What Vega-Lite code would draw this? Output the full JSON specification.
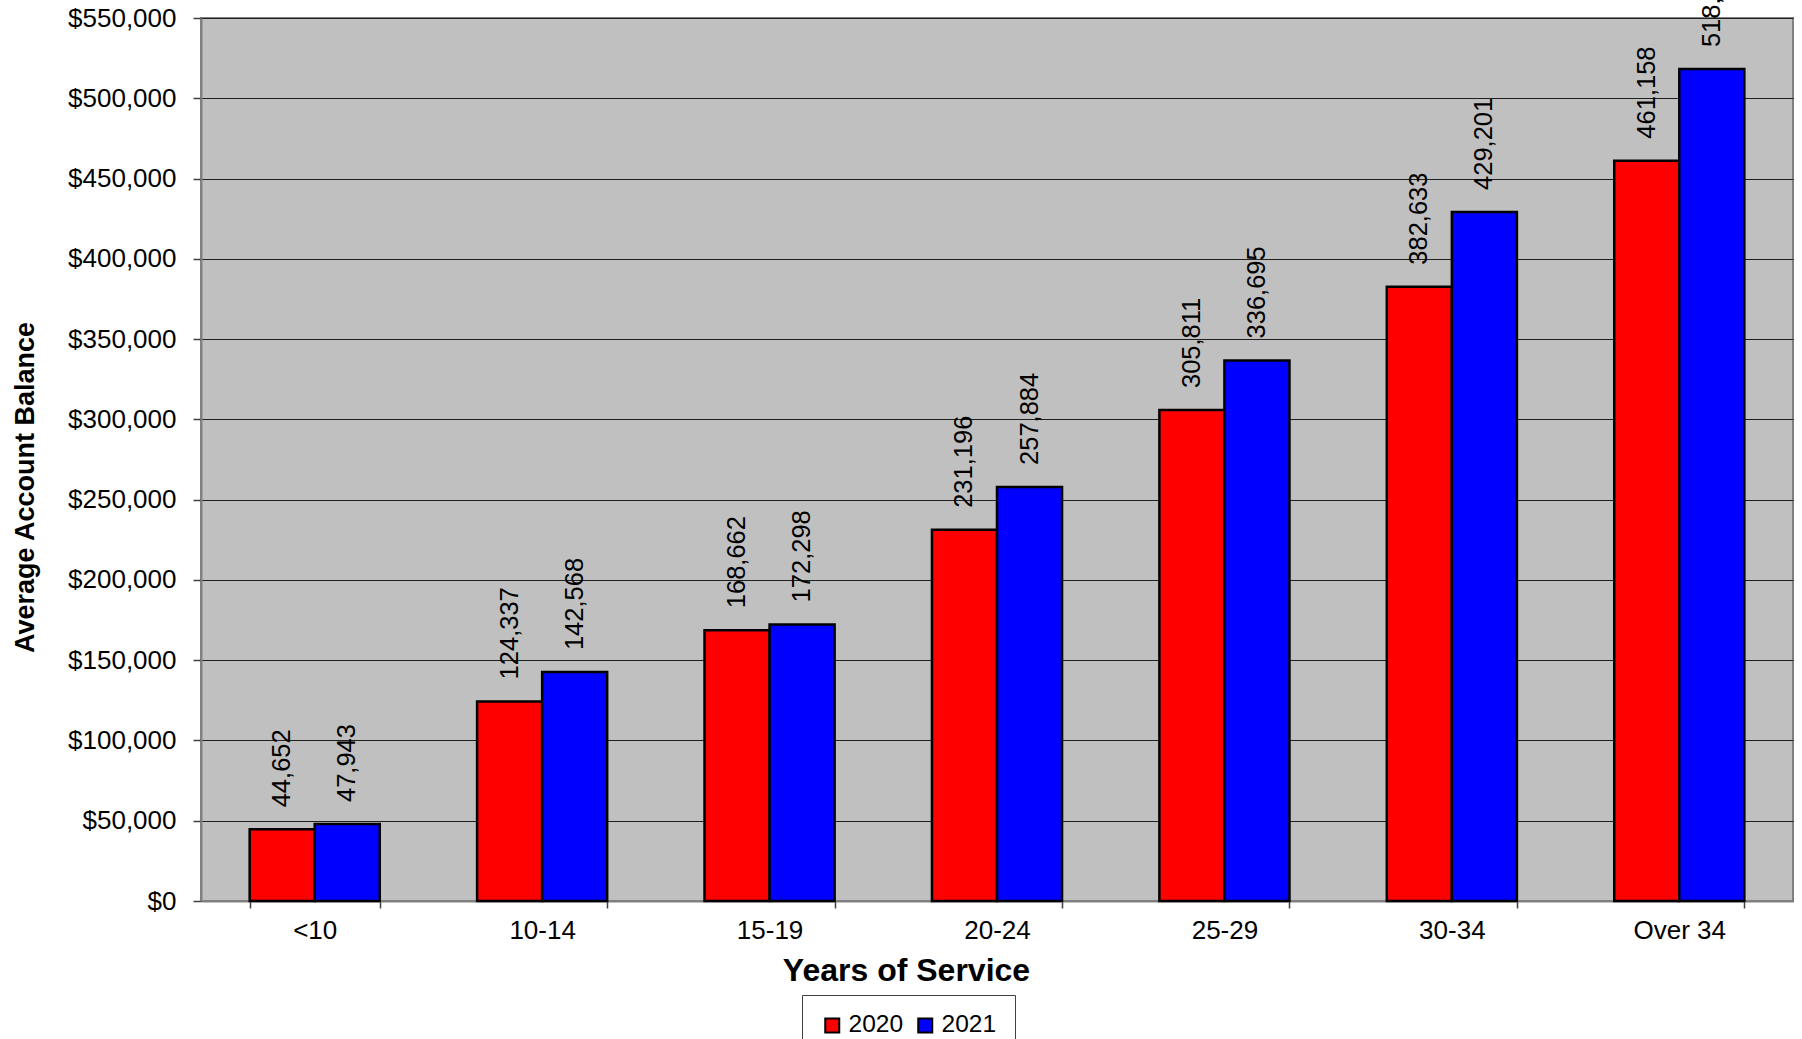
{
  "$schema": "https://vega.github.io/schema/vega-lite/v6.json",
  "width": 1592,
  "height": 883,
  "autosize": {"type": "none"},
  "padding": {"left": 201, "top": 18, "right": 9, "bottom": 138},
  "background": "white",
  "config": {
    "font": "Liberation Sans",
    "view": {"fill": "#C0C0C0", "stroke": "#808080", "strokeWidth": 2}
  },
  "data": {
    "values": [
      {"group": "<10", "year": "2020", "value": 44652},
      {"group": "<10", "year": "2021", "value": 47943},
      {"group": "10-14", "year": "2020", "value": 124337},
      {"group": "10-14", "year": "2021", "value": 142568},
      {"group": "15-19", "year": "2020", "value": 168662},
      {"group": "15-19", "year": "2021", "value": 172298},
      {"group": "20-24", "year": "2020", "value": 231196},
      {"group": "20-24", "year": "2021", "value": 257884},
      {"group": "25-29", "year": "2020", "value": 305811},
      {"group": "25-29", "year": "2021", "value": 336695},
      {"group": "30-34", "year": "2020", "value": 382633},
      {"group": "30-34", "year": "2021", "value": 429201},
      {"group": "Over 34", "year": "2020", "value": 461158},
      {"group": "Over 34", "year": "2021", "value": 518183}
    ]
  },
  "encoding": {
    "x": {
      "field": "group",
      "type": "nominal",
      "sort": ["<10", "10-14", "15-19", "20-24", "25-29", "30-34", "Over 34"],
      "scale": {"paddingInner": 0.428, "paddingOuter": 0.214},
      "axis": {
        "title": "Years of Service",
        "titleFontSize": 32,
        "titleFontWeight": "bold",
        "titleColor": "black",
        "titleX": 705,
        "titleY": 79,
        "titleAlign": "center",
        "titleBaseline": "alphabetic",
        "labelAngle": 0,
        "labelFontSize": 26,
        "labelColor": "black",
        "labelPadding": 9,
        "tickBand": "extent",
        "tickSize": 7,
        "tickColor": "#404040",
        "tickWidth": 1.5,
        "domainColor": "#808080",
        "domainWidth": 2,
        "grid": false
      }
    },
    "xOffset": {
      "field": "year",
      "type": "nominal",
      "sort": ["2020", "2021"],
      "scale": {"paddingInner": 0, "paddingOuter": 0}
    },
    "y": {
      "field": "value",
      "type": "quantitative",
      "scale": {"domain": [0, 550000], "nice": false},
      "axis": {
        "title": "Average Account Balance",
        "titleFontSize": 27,
        "titleFontWeight": "bold",
        "titleColor": "black",
        "titleAngle": 270,
        "titleX": -168,
        "titleY": 469,
        "titleAlign": "center",
        "titleBaseline": "alphabetic",
        "format": "$,.0f",
        "values": [0, 50000, 100000, 150000, 200000, 250000, 300000, 350000, 400000, 450000, 500000, 550000],
        "labelFontSize": 26,
        "labelColor": "black",
        "labelPadding": 17,
        "tickSize": 8,
        "tickColor": "#404040",
        "tickWidth": 1.5,
        "domainColor": "#808080",
        "domainWidth": 2,
        "grid": true,
        "gridColor": "#202020",
        "gridWidth": 1.2
      }
    }
  },
  "layer": [
    {
      "mark": {"type": "bar", "stroke": "black", "strokeWidth": 2.5},
      "encoding": {
        "color": {
          "field": "year",
          "type": "nominal",
          "scale": {"domain": ["2020", "2021"], "range": ["#FF0000", "#0000FF"]},
          "legend": {
            "orient": "none",
            "legendX": 601,
            "legendY": 977,
            "direction": "horizontal",
            "title": null,
            "labelFontSize": 24.5,
            "labelColor": "black",
            "labelOffset": 4,
            "columnPadding": 9,
            "symbolType": "square",
            "symbolSize": 196,
            "symbolStrokeColor": "black",
            "symbolStrokeWidth": 2,
            "symbolOpacity": 1,
            "strokeColor": "#404040",
            "fillColor": "white",
            "padding": 18
          }
        }
      }
    },
    {
      "mark": {"type": "text", "angle": 270, "align": "left", "baseline": "middle", "dx": 22, "fontSize": 25.5, "color": "black"},
      "encoding": {
        "text": {"field": "value", "type": "quantitative", "format": ",d"}
      }
    }
  ]
}
